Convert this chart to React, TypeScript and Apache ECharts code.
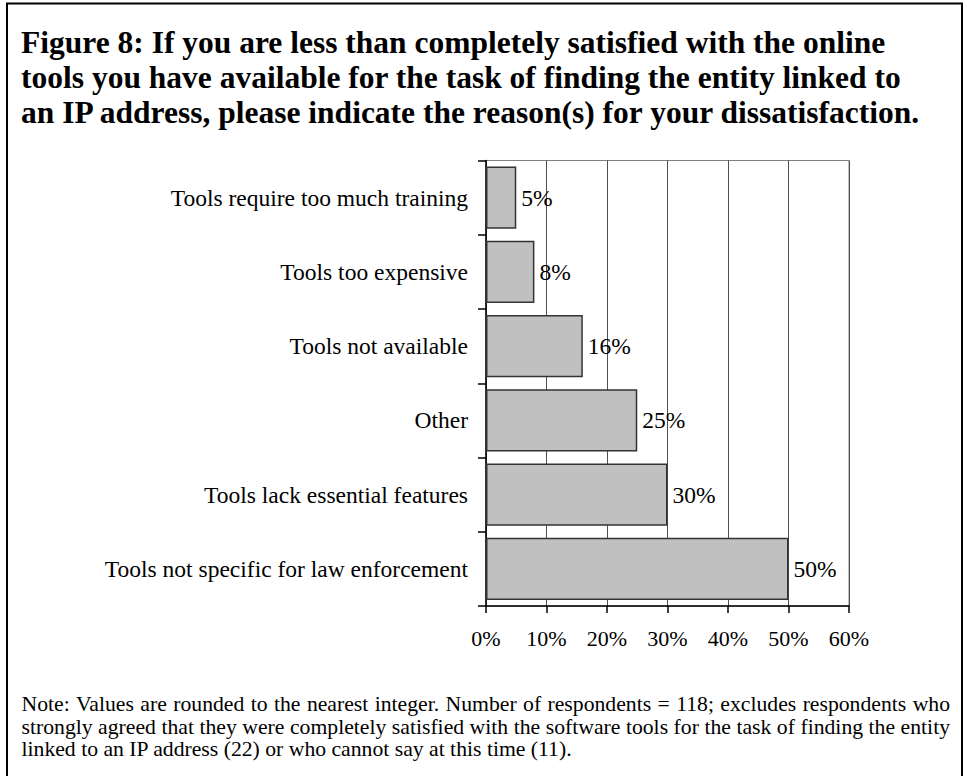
import React, { useEffect, useRef } from "react";
import * as echarts from "echarts";

const titleLines = [
  "Figure 8: If you are less than completely satisfied with the online",
  "tools you have available for the task of finding the entity linked to",
  "an IP address, please indicate the reason(s) for your dissatisfaction.",
];

const categories = [
  "Tools require too much training",
  "Tools too expensive",
  "Tools not available",
  "Other",
  "Tools lack essential features",
  "Tools not specific for law enforcement",
];

const values = [5, 8, 16, 25, 30, 50];

const axisMin = 0;
const axisMax = 60;
const axisStep = 10;

const noteLines = [
  "Note: Values are rounded to the nearest integer. Number of respondents = 118; excludes respondents who",
  "strongly agreed that they were completely satisfied with the software tools for the task of finding the entity",
  "linked to an IP address (22) or who cannot say at this time (11).",
];

const FONT = "'Liberation Serif', 'Times New Roman', serif";

function justifiedLine(line: string, size: number, x0: number, width: number, y: number, justify: boolean) {
  if (!justify) {
    return [
      {
        type: "text",
        x: x0,
        y,
        style: { text: line, fontSize: size, fontFamily: FONT, fill: "#000", verticalAlign: "middle", align: "left" },
      },
    ];
  }
  const canvas = document.createElement("canvas");
  const ctx = canvas.getContext("2d")!;
  ctx.font = `${size}px ${FONT}`;
  const words = line.split(" ");
  const widths = words.map((w) => ctx.measureText(w).width);
  const total = widths.reduce((a, b) => a + b, 0);
  const gap = (width - total) / (words.length - 1);
  let x = x0;
  return words.map((w, i) => {
    const el = {
      type: "text",
      x,
      y,
      style: { text: w, fontSize: size, fontFamily: FONT, fill: "#000", verticalAlign: "middle", align: "left" },
    };
    x += widths[i] + gap;
    return el;
  });
}

export default function App() {
  const ref = useRef<HTMLDivElement>(null);

  useEffect(() => {
    if (!ref.current) return;
    const chart = echarts.init(ref.current, undefined, { renderer: "svg" });

    const titleEls = titleLines.map((t, i) => ({
      type: "text",
      x: 21,
      y: 42 + i * 35,
      style: {
        text: t,
        fontSize: 31.5,
        fontWeight: "bold",
        fontFamily: FONT,
        fill: "#000",
        verticalAlign: "middle",
        align: "left",
      },
    }));

    const noteEls: any[] = [];
    noteLines.forEach((l, i) => {
      noteEls.push(...justifiedLine(l, 21.7, 21.5, 928.5, 704 + i * 22.5, i < noteLines.length - 1));
    });

    chart.setOption({
      animation: false,
      textStyle: { fontFamily: FONT, color: "#000" },
      grid: {
        left: 486,
        right: 118,
        top: 160.5,
        bottom: 170,
        show: true,
        borderColor: "#808080",
        borderWidth: 1,
        backgroundColor: "transparent",
      },
      xAxis: {
        type: "value",
        min: axisMin,
        max: axisMax,
        interval: axisStep,
        axisLine: { show: true, lineStyle: { color: "#000", width: 1.5 } },
        axisTick: { show: true, length: 7, lineStyle: { color: "#000", width: 1.5 } },
        axisLabel: { formatter: "{value}%", fontSize: 22, margin: 21, color: "#000", fontFamily: FONT },
        splitLine: { show: true, lineStyle: { color: "#505050", width: 1 } },
      },
      yAxis: {
        type: "category",
        data: categories,
        inverse: true,
        axisLine: { show: true, lineStyle: { color: "#000", width: 1.5 } },
        axisTick: { show: true, length: 8, lineStyle: { color: "#000", width: 1.5 } },
        axisLabel: { fontSize: 23.5, margin: 18, color: "#000", fontFamily: FONT },
        splitLine: { show: false },
      },
      series: [
        {
          type: "bar",
          data: values,
          barCategoryGap: "16%",
          itemStyle: { color: "#c0c0c0", borderColor: "#333", borderWidth: 1.5 },
          label: {
            show: true,
            position: "right",
            distance: 5,
            formatter: "{c}%",
            fontSize: 23.5,
            color: "#000",
            fontFamily: FONT,
          },
        },
      ],
      graphic: [
        {
          type: "rect",
          shape: { x: 7, y: 3.5, width: 955, height: 800 },
          style: { fill: "none", stroke: "#000", lineWidth: 2 },
          silent: true,
        },
        ...titleEls,
        ...noteEls,
      ],
    });

    return () => chart.dispose();
  }, []);

  return (
    <div
      ref={ref}
      style={{ position: "fixed", left: 0, top: 0, width: 967, height: 776, background: "#fff" }}
    />
  );
}
